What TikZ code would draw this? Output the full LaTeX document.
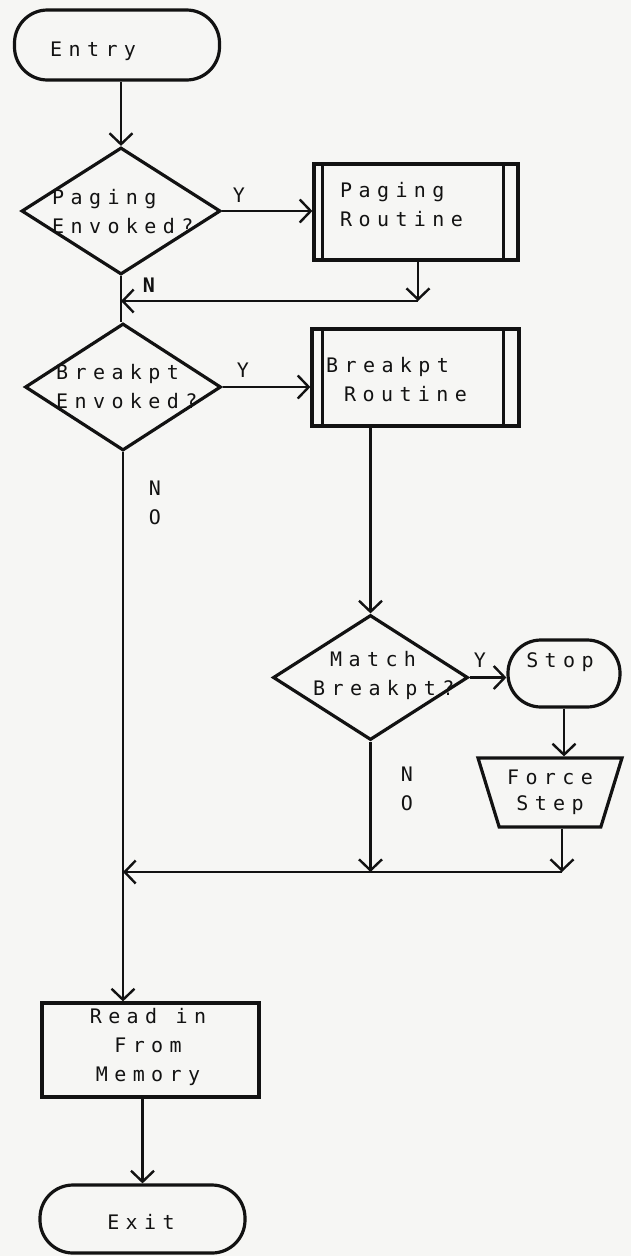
\documentclass[tikz,border=0pt]{standalone}
\usepackage{fontspec}
\newfontfamily\plotfont[LetterSpace=32]{DejaVu Sans Mono}
\usetikzlibrary{shapes.geometric,arrows.meta}
\definecolor{paper}{RGB}{246,246,244}
\definecolor{ink}{RGB}{18,18,18}
\begin{document}
\begin{tikzpicture}[x=1pt,y=-1pt,
  shapebox/.style={draw=ink, line width=3.2pt, inner sep=0pt},
  term/.style={shapebox, rectangle, rounded corners=33pt},
  dec/.style={shapebox, diamond},
  proc/.style={shapebox, rectangle},
  conn/.style={draw=ink, line width=2.4pt, -{Straight Barb[length=11pt,width=23pt,line width=2.4pt]}},
  wire/.style={draw=ink, line width=2.4pt},
  txt/.style={font=\plotfont\fontsize{20}{29}\selectfont, text=ink, inner sep=0pt, align=left, anchor=west},
  lbl/.style={txt, anchor=center},
]
\fill[paper] (0,0) rectangle (631,1256);
\useasboundingbox (0,0) rectangle (631,1256);

% shapes
\node[term, minimum width=205pt, minimum height=70pt] (entry) at (117,45) {};
\node[dec, minimum width=199pt, minimum height=127pt] (pag) at (121,211) {};
\node[proc, minimum width=204pt, minimum height=96pt] (pr) at (416,212) {};
\node[dec, minimum width=196pt, minimum height=127pt] (brk) at (123,387) {};
\node[proc, minimum width=207pt, minimum height=97pt] (br) at (415.5,377.5) {};
\node[dec, minimum width=195pt, minimum height=125pt] (match) at (370.5,677.5) {};
\node[shapebox, rectangle, rounded corners=33pt, minimum width=112pt, minimum height=67pt] (stop) at (564,673.5) {};
\node[shapebox, trapezium, trapezium stretches=true, trapezium left angle=111, trapezium right angle=111,
      inner sep=2pt, minimum width=144pt, minimum height=69pt, text=ink, align=center,
      font=\plotfont\fontsize{20}{26}\selectfont] (force) at (550,792.5) {Force\\Step};
\node[proc, minimum width=217pt, minimum height=94pt] (read) at (150.5,1050) {};
\node[term, minimum width=205pt, minimum height=68pt] (exit) at (142.5,1219) {};

% process side bars
\draw[wire] ([xshift=10pt]pr.north west) -- ([xshift=10pt]pr.south west);
\draw[wire] ([xshift=-16pt]pr.north east) -- ([xshift=-16pt]pr.south east);
\draw[wire] ([xshift=12pt]br.north west) -- ([xshift=12pt]br.south west);
\draw[wire] ([xshift=-17pt]br.north east) -- ([xshift=-17pt]br.south east);

% texts
\node[txt] (entryT) at (50,51) {Entry};
\node[txt] (pagT) at (52,212) {Paging\\Envoked?};
\node[txt] (prT) at (340,205) {Paging\\Routine};
\node[txt] (brkT) at (56,387) {Breakpt\\Envoked?};
\node[txt] (brT) at (326,380) {Breakpt\\\hspace*{18pt}Routine};
\node[txt] (matchT) at (313,675) {\hspace*{17pt}Match\\Breakpt?};
\node[lbl] (stopT) at (560,662) {Stop};
\node[txt, align=center, anchor=center] (readT) at (148,1047) {Read in\\From\\Memory};
\node[lbl] (exitT) at (141,1222) {Exit};

% branch labels
\node[lbl] (y1) at (239,195) {Y};
\node[lbl] (y2) at (243,370) {Y};
\node[lbl] (y3) at (480,660) {Y};
\node[lbl, font=\plotfont\bfseries\fontsize{20}{29}\selectfont] (n1) at (149,285) {N};
\node[lbl, align=center] (n2) at (155,503) {N\\O};
\node[lbl, align=center] (n3) at (407,789) {N\\O};

% connectors
\coordinate (j1) at (418,301);
\coordinate (j3) at (562,872);
\draw[conn] (pag.north |- entry.south) -- (pag.north);
\draw[conn] (pag.east) -- (pag.east -| pr.west);
\draw[conn] (pr.south -| j1) -- (j1);
\draw[conn] (j1) -- (pag.south |- j1);
\draw[wire] (pag.south) -- (pag.south |- brk.north);
\draw[conn] (brk.east) -- (brk.east -| br.west);
\draw[conn] (br.south -| match.north) -- (match.north);
\draw[conn] (match.east) -- (match.east -| stop.west);
\draw[conn] (stop.south) -- (stop.south |- force.north);
\draw[conn] (j3 |- force.south) -- (j3);
\draw[conn] (match.south) -- (match.south |- j3);
\draw[wire] (j3) -- (match.south |- j3);
\draw[conn] (match.south |- j3) -- (brk.south |- j3);
\draw[conn] (brk.south) -- (brk.south |- read.north);
\draw[conn] (read.south -| exit.north) -- (exit.north);
\end{tikzpicture}
\end{document}
